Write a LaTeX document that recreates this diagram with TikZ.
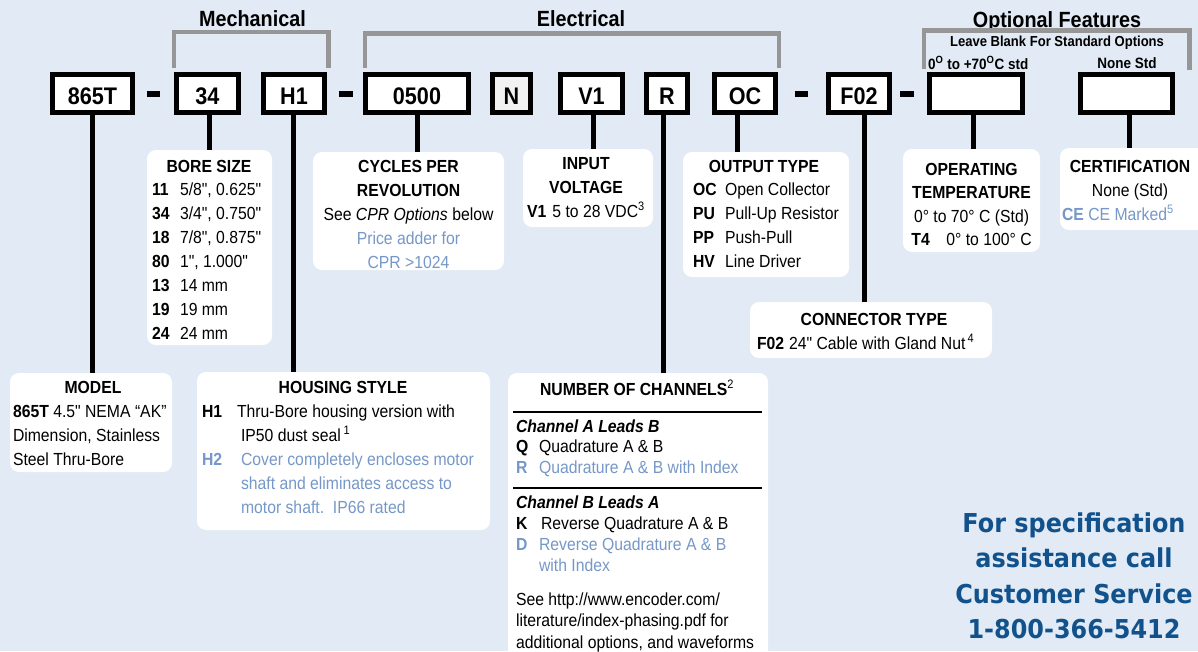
\documentclass[tikz,border=0pt]{standalone}
\usepackage{fontspec}
\newfontfamily\ars{Liberation Sans}[FakeStretch=0.9]
\newfontfamily\phonefont{DejaVu Sans}[FakeStretch=0.92]
\definecolor{bgc}{RGB}{225,234,245}
\definecolor{blu}{RGB}{118,152,200}
\definecolor{phonec}{RGB}{18,82,140}
\definecolor{brk}{RGB}{150,150,150}
\newcommand\codew[2]{\makebox[#1][l]{\bfseries #2}}
\newcommand\bodyf{\ars\fontsize{17.5}{24}\selectfont}
\tikzset{
  codebox/.style={draw=black, line width=5pt, fill=white, minimum height=38pt, inner sep=0pt, outer sep=0pt, text height=21pt, text depth=0pt, font=\ars\bfseries\fontsize{24}{28}\selectfont},
  descbox/.style={fill=white, rounded corners=9pt, inner sep=0pt, outer sep=0pt, anchor=north west},
  txt/.style={inner sep=0pt, outer sep=0pt, font=\bodyf},
  conn/.style={line width=5pt, black},
  bracket/.style={line width=4.5pt, brk},
  grouplbl/.style={inner sep=0pt, outer sep=0pt, anchor=base, font=\ars\bfseries\fontsize{22}{26}\selectfont},
  rulel/.style={line width=1.2pt, black},
  hyph/.style={fill=black},
}
\begin{document}
\begin{tikzpicture}[x=1pt,y=-1pt]
\useasboundingbox (0,0) rectangle (1198,651);
\fill[bgc] (0,0) rectangle (1198,651);

% group labels
\node[grouplbl] (lmech) at (252.5,26) {Mechanical};
\node[grouplbl] (lelec) at (581,26) {Electrical};
\node[grouplbl] (lopt) at (1057,27) {Optional Features};
\node[inner sep=0pt, anchor=base, font=\ars\bfseries\fontsize{14.5}{17}\selectfont] (lleave) at (1057,46) {Leave Blank For Standard Options};
\node[inner sep=0pt, anchor=base west, font=\ars\bfseries\fontsize{15}{18}\selectfont] (ltemp) at (928,69) {0\textsuperscript{O} to +70\textsuperscript{O}C std};
\node[inner sep=0pt, anchor=base, font=\ars\bfseries\fontsize{15}{18}\selectfont] (lnone) at (1127,68) {None Std};

% brackets
\draw[bracket] (174,68) |- (328.5,32) -- (328.5,68);
\draw[bracket] (365,68) |- (779,33.5) -- (779,68);
\draw[bracket] (924,69) |- (1189.5,30.5) -- (1189.5,70);

% code boxes
\node[codebox, minimum width=80pt] (c865) at (92.5,93.5) {865T};
\node[codebox, minimum width=62pt] (c34) at (207.5,93.5) {34};
\node[codebox, minimum width=61pt] (cH1) at (294,93.5) {H1};
\node[codebox, minimum width=103pt] (c0500) at (417,93.5) {0500};
\node[codebox, minimum width=38pt, fill=black!5] (cN) at (511.5,93.5) {N};
\node[codebox, minimum width=62pt] (cV1) at (591.5,93.5) {V1};
\node[codebox, minimum width=41pt] (cR) at (667,93.5) {R};
\node[codebox, minimum width=61pt] (cOC) at (745,93.5) {OC};
\node[codebox, minimum width=61pt] (cF02) at (859,93.5) {F02};
\node[codebox, minimum width=93pt] (cB1) at (976,93.5) {};
\node[codebox, minimum width=92pt] (cB2) at (1126.5,93.5) {};

% hyphens
\fill[hyph] (147,90.5) rectangle (160,97);
\fill[hyph] (339,90.5) rectangle (353,97);
\fill[hyph] (795,90.5) rectangle (808,97);
\fill[hyph] (900,90.5) rectangle (914,97);

% description boxes
\node[descbox, minimum width=125pt, minimum height=195pt] (bore) at (147,150) {};
\node[descbox, minimum width=191pt, minimum height=118pt] (cpr) at (313,152) {};
\node[descbox, minimum width=130pt, minimum height=78pt] (inp) at (523,149) {};
\node[descbox, minimum width=166pt, minimum height=125pt] (outp) at (683,152) {};
\node[descbox, minimum width=137pt, minimum height=103pt] (optemp) at (903,149) {};
\node[descbox, minimum width=160pt, minimum height=82pt] (cert) at (1060,148) {};
\node[descbox, minimum width=242pt, minimum height=56pt] (conn) at (750,302) {};
\node[descbox, minimum width=162pt, minimum height=99pt] (model) at (10,373) {};
\node[descbox, minimum width=293pt, minimum height=158pt] (hous) at (197,372) {};
\node[descbox, minimum width=260pt, minimum height=300pt] (chan) at (508,373) {};

% connector x positions
\coordinate (k865) at (92.5,0);
\coordinate (k34) at (209,0);
\coordinate (kH1) at (293,0);
\coordinate (k0500) at (417,0);
\coordinate (kV1) at (593,0);
\coordinate (kR) at (663,0);
\coordinate (kOC) at (737,0);
\coordinate (kF02) at (864,0);
\coordinate (kB1) at (973,0);
\coordinate (kB2) at (1129,0);

\draw[conn] (c865.south -| k865) -- (model.north -| k865);
\draw[conn] (c34.south -| k34) -- (bore.north -| k34);
\draw[conn] (cH1.south -| kH1) -- (hous.north -| kH1);
\draw[conn] (c0500.south -| k0500) -- (cpr.north -| k0500);
\draw[conn] (cV1.south -| kV1) -- (inp.north -| kV1);
\draw[conn] (cR.south -| kR) -- (chan.north -| kR);
\draw[conn] (cOC.south -| kOC) -- (outp.north -| kOC);
\draw[conn] (cF02.south -| kF02) -- (conn.north -| kF02);
\draw[conn] (cB1.south -| kB1) -- (optemp.north -| kB1);
\draw[conn] (cB2.south -| kB2) -- (cert.north -| kB2);

% BORE SIZE
\node[txt, anchor=base] (boreH) at (209,172) {\bfseries BORE SIZE};
\node[txt, anchor=base west] (boreT) at (152,195) {\begin{tabular}[t]{@{}l@{}}
\codew{28pt}{11}5/8", 0.625"\\
\codew{28pt}{34}3/4", 0.750"\\
\codew{28pt}{18}7/8", 0.875"\\
\codew{28pt}{80}1", 1.000"\\
\codew{28pt}{13}14 mm\\
\codew{28pt}{19}19 mm\\
\codew{28pt}{24}24 mm
\end{tabular}};

% CPR
\node[txt, anchor=base] (cprT) at (408.5,172) {\begin{tabular}[t]{@{}c@{}}
\bfseries CYCLES PER\\
\bfseries REVOLUTION\\
See \textit{CPR Options} below\\
\color{blu}Price adder for\\
\color{blu}CPR >1024
\end{tabular}};

% INPUT VOLTAGE
\node[txt, anchor=base] (inpT) at (586,169) {\begin{tabular}[t]{@{}c@{}}
\bfseries INPUT\\
\bfseries VOLTAGE\\
\textbf{V1}\hspace{6pt}5 to 28 VDC\textsuperscript{3}
\end{tabular}};

% OUTPUT TYPE
\node[txt, anchor=base] (outH) at (764,172) {\bfseries OUTPUT TYPE};
\node[txt, anchor=base west] (outT) at (693,195) {\begin{tabular}[t]{@{}l@{}}
\codew{32pt}{OC}Open Collector\\
\codew{32pt}{PU}Pull-Up Resistor\\
\codew{32pt}{PP}Push-Pull\\
\codew{32pt}{HV}Line Driver
\end{tabular}};

% OPERATING TEMPERATURE
\node[txt, anchor=base, font=\ars\fontsize{17.5}{23.5}\selectfont] (optT) at (971.5,175) {\begin{tabular}[t]{@{}c@{}}
\bfseries OPERATING\\
\bfseries TEMPERATURE\\
0° to 70° C (Std)\\
\codew{35pt}{T4}0° to 100° C
\end{tabular}};

% CERTIFICATION
\node[txt, anchor=base] (certT) at (1130,172) {\begin{tabular}[t]{@{}c@{}}
\bfseries CERTIFICATION\\
None (Std)
\end{tabular}};
\node[txt, anchor=base west, text=blu] (certCE) at (1062,220) {\textbf{CE} CE Marked\textsuperscript{5}};

% CONNECTOR TYPE
\node[txt, anchor=base] (connH) at (874,325) {\bfseries CONNECTOR TYPE};
\node[txt, anchor=base west] (connT) at (757,349) {\textbf{F02}\hspace{5pt}24" Cable with Gland Nut\textsuperscript{\,4}};

% MODEL
\node[txt, anchor=base] (modelH) at (93,393) {\bfseries MODEL};
\node[txt, anchor=base west] (modelT) at (13,417) {\begin{tabular}[t]{@{}l@{}}
\textbf{865T} 4.5" NEMA “AK”\\
Dimension, Stainless\\
Steel Thru-Bore
\end{tabular}};

% HOUSING STYLE
\node[txt, anchor=base] (housH) at (343,393) {\bfseries HOUSING STYLE};
\node[txt, anchor=base west] (housT) at (202,417) {\begin{tabular}[t]{@{}l@{}}
\codew{35pt}{H1}Thru-Bore housing version with\\
\hspace{39pt}IP50 dust seal\,\textsuperscript{1}\\
\color{blu}\codew{39pt}{H2}Cover completely encloses motor\\
\color{blu}\hspace{39pt}shaft and eliminates access to\\
\color{blu}\hspace{39pt}motor shaft.\ \ IP66 rated
\end{tabular}};

% NUMBER OF CHANNELS
\node[txt, anchor=base] (chanH) at (637,395) {\textbf{NUMBER OF CHANNELS}\textsuperscript{2}};
\draw[rulel] (513,412) -- (762,412);
\node[txt, anchor=base west, font=\ars\fontsize{17.5}{20.5}\selectfont] (chanA) at (516,432) {\begin{tabular}[t]{@{}l@{}}
\textbf{\textit{Channel A Leads B}}\\
\codew{23pt}{Q}Quadrature A \& B\\
\color{blu}\codew{23pt}{R}Quadrature A \& B with Index
\end{tabular}};
\draw[rulel] (513,488) -- (762,488);
\node[txt, anchor=base west, font=\ars\fontsize{17.5}{21}\selectfont] (chanB) at (516,508) {\begin{tabular}[t]{@{}l@{}}
\textbf{\textit{Channel B Leads A}}\\
\codew{25pt}{K}Reverse Quadrature A \& B\\
\color{blu}\codew{23pt}{D}Reverse Quadrature A \& B\\
\color{blu}\hspace{23pt}with Index
\end{tabular}};
\node[txt, anchor=base west, font=\ars\fontsize{17.5}{21.5}\selectfont] (chanS) at (516,605) {\begin{tabular}[t]{@{}l@{}}
See http://www.encoder.com/\\
literature/index-phasing.pdf for\\
additional options, and waveforms
\end{tabular}};

% phone
\node[inner sep=0pt, anchor=base, text=phonec, font=\phonefont\bfseries\fontsize{26}{35.3}\selectfont] (phoneT) at (1074,532.5) {\begin{tabular}[t]{@{}c@{}}
For specification\\
assistance call\\
Customer Service\\
1-800-366-5412
\end{tabular}};
\end{tikzpicture}
\end{document}
